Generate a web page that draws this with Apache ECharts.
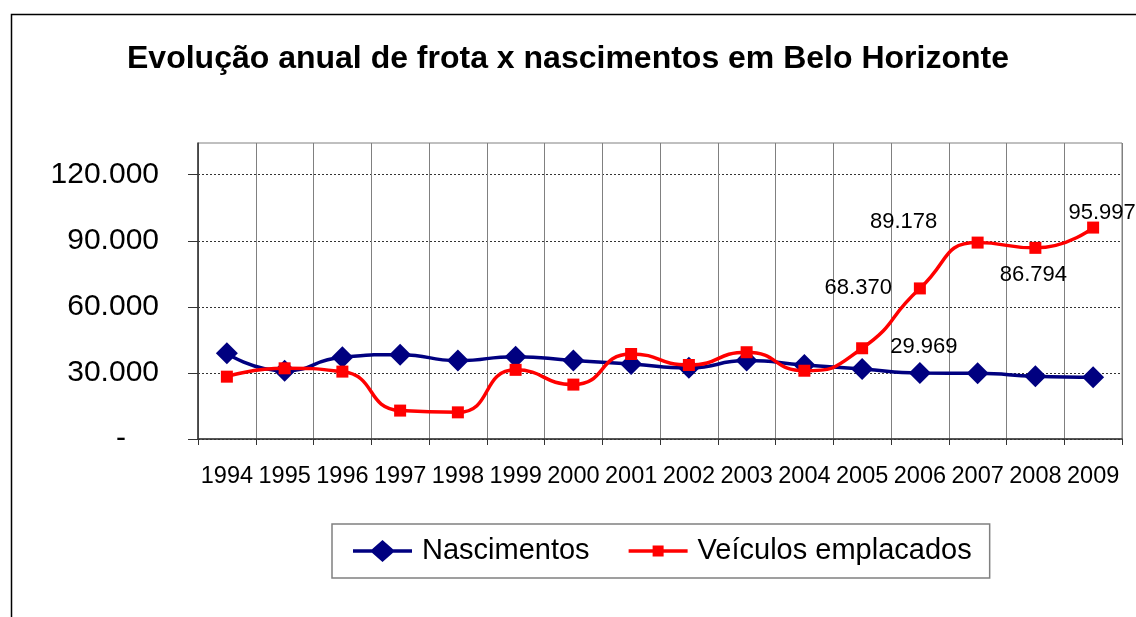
<!DOCTYPE html>
<html>
<head>
<meta charset="utf-8">
<script src="https://cdn.jsdelivr.net/npm/echarts@6/dist/echarts.min.js"></script>
<style>html,body{margin:0;padding:0;background:#fff}#c{width:1136px;height:617px}</style>
</head>
<body>
<div id="c"></div>
<script>
const years = ['1994','1995','1996','1997','1998','1999','2000','2001','2002','2003','2004','2005','2006','2007','2008','2009'];
const nascimentos = [38900, 31000, 37100, 38300, 35600, 37400, 35600, 34100, 32300, 35600, 33600, 31800, 29969, 29800, 28500, 28000];
const veiculos = [28300, 32100, 30600, 12900, 12100, 31400, 24700, 38600, 33600, 39400, 31000, 41200, 68370, 89178, 86794, 95997];
const yTicks = [0, 30000, 60000, 90000, 120000];

const fmt = v => v === 0 ? '{d|-}' : String(v).replace(/\B(?=(\d{3})+(?!\d))/g, '.');
const FONT = 'Liberation Sans, Arial, sans-serif';

const labelCfgV = {
  12: { position: 'left', distance: 22, offset: [0, 0] },
  13: { position: 'top', distance: 4, offset: [-74, 0] },
  14: { position: 'bottom', distance: 10, offset: [-2, 0] },
  15: { position: 'top', distance: 0, offset: [9, 2] }
};
const labelCfgN = {
  12: { position: 'top', distance: 4, offset: [4, 0] }
};
function build(arr, cfg) {
  return arr.map((v, i) => cfg[i] ? {
    value: v,
    label: Object.assign({ show: true, color: '#000', fontSize: 22, fontFamily: FONT,
      formatter: p => fmt(p.value) }, cfg[i])
  } : v);
}

// legend icons: line + marker, with corner move-to points to fix the bounding box
const iconDiamond = 'path://M0,0 M59,22 M0,9.2 L19,9.2 L29.5,0 L40,9.2 L59,9.2 L59,12.8 L40,12.8 L29.5,22 L19,12.8 L0,12.8 Z';
const iconSquare = 'path://M0,0 M59,22 M0,9.2 L24,9.2 L24,5.5 L35,5.5 L35,9.2 L59,9.2 L59,12.8 L35,12.8 L35,16.5 L24,16.5 L24,12.8 L0,12.8 Z';

const chart = echarts.init(document.getElementById('c'), null, { renderer: 'canvas' });
chart.setOption({
  animation: false,
  backgroundColor: '#fff',
  graphic: [{
    type: 'rect', silent: true,
    shape: { x: 11.5, y: 14.5, width: 1200, height: 700 },
    style: { fill: 'none', stroke: '#000', lineWidth: 1.5 }
  }],
  title: {
    text: 'Evolução anual de frota x nascimentos em Belo Horizonte',
    left: 'center', top: 38,
    textStyle: { fontFamily: FONT, fontSize: 32, fontWeight: 'bold', color: '#000' }
  },
  legend: {
    left: 332, top: 524,
    orient: 'horizontal',
    borderColor: '#808080', borderWidth: 1.5,
    padding: [12, 18, 12, 21],
    itemWidth: 59, itemHeight: 22, itemGap: 39,
    textStyle: { fontFamily: FONT, fontSize: 29, color: '#000', lineHeight: 30, padding: [0, 0, 0, 5] },
    data: [
      { name: 'Nascimentos', icon: iconDiamond, itemStyle: { color: '#000080' } },
      { name: 'Veículos emplacados', icon: iconSquare, itemStyle: { color: '#ff0000' } }
    ]
  },
  grid: {
    left: 198, right: 14, top: 143, bottom: 178,
    show: true, borderColor: '#808080', borderWidth: 1, backgroundColor: 'transparent'
  },
  xAxis: {
    type: 'category', data: years, boundaryGap: true,
    axisLine: { lineStyle: { color: '#333', width: 1.5 } },
    axisTick: { show: true, length: 6, inside: false, lineStyle: { color: '#333' } },
    splitLine: { show: true, lineStyle: { color: '#808080', width: 1 } },
    axisLabel: { interval: 0, margin: 26, fontFamily: FONT, fontSize: 23.5, color: '#000' }
  },
  yAxis: {
    type: 'value', min: 0, max: 134400, interval: 30000,
    axisLine: { show: true, lineStyle: { color: '#333', width: 1.5 } },
    axisTick: { show: true, length: 10, lineStyle: { color: '#333' }, customValues: yTicks },
    splitLine: { show: true, lineStyle: { color: '#333', type: [2, 2], width: 1 } },
    axisLabel: {
      margin: 39, fontFamily: FONT, fontSize: 30, color: '#000',
      customValues: yTicks,
      formatter: v => yTicks.indexOf(v) >= 0 ? fmt(v) : '',
      rich: { d: { fontFamily: FONT, fontSize: 30, color: '#000', padding: [0, 33, 0, 0] } }
    }
  },
  series: [{
    name: 'Nascimentos', type: 'line', smooth: 0.55,
    data: build(nascimentos, labelCfgN),
    symbol: 'diamond', symbolSize: 22,
    itemStyle: { color: '#000080' },
    lineStyle: { color: '#000080', width: 3.5 },
    z: 2
  }, {
    name: 'Veículos emplacados', type: 'line', smooth: 0.55,
    data: build(veiculos, labelCfgV),
    symbol: 'rect', symbolSize: 12,
    itemStyle: { color: '#ff0000' },
    lineStyle: { color: '#ff0000', width: 3.5 },
    z: 3
  }]
});
</script>
</body>
</html>
